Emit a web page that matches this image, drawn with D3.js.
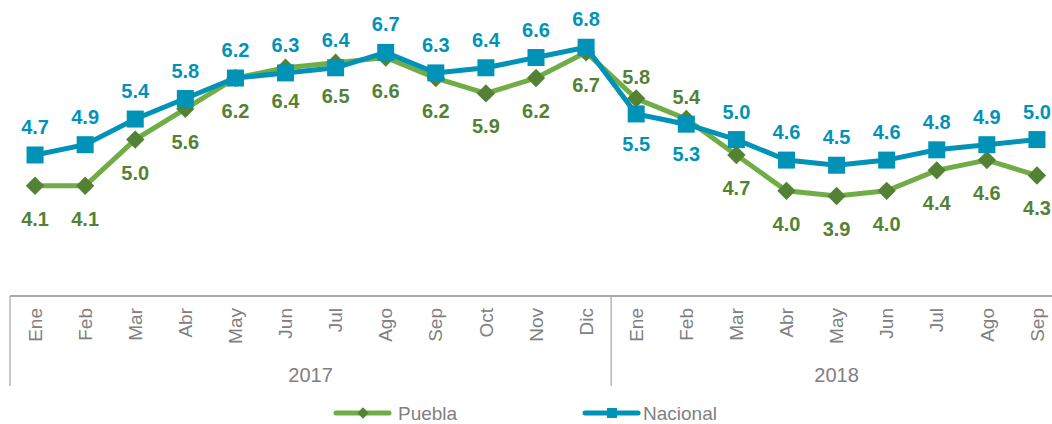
<!DOCTYPE html>
<html>
<head>
<meta charset="utf-8">
<script src="https://cdn.jsdelivr.net/npm/d3@7"></script>
<style>
  body { margin: 0; background: #fff; }
  text { font-family: "Liberation Sans", Arial, sans-serif; }
</style>
</head>
<body>
<div id="chart"></div>
<script>
const months = ["Ene", "Feb", "Mar", "Abr", "May", "Jun", "Jul", "Ago", "Sep", "Oct", "Nov", "Dic",
                "Ene", "Feb", "Mar", "Abr", "May", "Jun", "Jul", "Ago", "Sep"];
const years = ["2017", "2018"];
const yearSpan = [12, 9];
const puebla = [4.1, 4.1, 5.0, 5.6, 6.2, 6.4, 6.5, 6.6, 6.2, 5.9, 6.2, 6.7,
                5.8, 5.4, 4.7, 4.0, 3.9, 4.0, 4.4, 4.6, 4.3];
const nacional = [4.7, 4.9, 5.4, 5.8, 6.2, 6.3, 6.4, 6.7, 6.3, 6.4, 6.6, 6.8,
                  5.5, 5.3, 5.0, 4.6, 4.5, 4.6, 4.8, 4.9, 5.0];

const width = 1052, height = 424;
const blue = "#0093b7", lightGreen = "#70ad47", darkGreen = "#548235", grey = "#808080";

// index where the labels swap sides
const swapped = [12, 13];

const svg = d3.select("#chart")
    .append("svg")
    .attr("width", width)
    .attr("height", height);

const idx = d3.range(months.length);
const x = d3.scaleBand().domain(idx).range([10, 1062]).padding(0);
const cx = function(i) { return x(i) + x.bandwidth() / 2; };
const y = d3.scaleLinear().domain([1.95, 7]).range([296, 37]);
const axisY = 296;

// x axis with month labels
const xAxis = svg.append("g")
    .attr("transform", "translate(0," + axisY + ")")
    .call(d3.axisBottom(x).tickSize(0).tickFormat(function(i) { return months[i]; }));
xAxis.select(".domain").remove();
xAxis.selectAll("text")
    .attr("transform", "rotate(-90)")
    .attr("x", -12)
    .attr("y", 0)
    .attr("dy", "0.35em")
    .style("text-anchor", "end")
    .style("font-size", "19px")
    .style("font-family", "Liberation Sans, Arial, sans-serif")
    .attr("fill", grey);

svg.append("line")
    .attr("x1", 10).attr("x2", width)
    .attr("y1", axisY).attr("y2", axisY)
    .attr("stroke", "#8c8c8c").attr("stroke-width", 1.5);

// year groups
let start = 0;
years.forEach(function(yr, k) {
  const x0 = x(start);
  const x1 = x(start + yearSpan[k] - 1) + x.bandwidth();
  svg.append("line")
    .attr("x1", x0).attr("x2", x0)
    .attr("y1", axisY).attr("y2", 386)
    .attr("stroke", "#a6a6a6").attr("stroke-width", 1.2);
  svg.append("text")
    .attr("x", (x0 + x1) / 2)
    .attr("y", 382)
    .attr("text-anchor", "middle")
    .attr("fill", grey)
    .style("font-size", "20px")
    .text(yr);
  start += yearSpan[k];
});

const line = d3.line()
    .x(function(d, i) { return cx(i); })
    .y(function(d) { return y(d); });

// Puebla
svg.append("path")
    .datum(puebla)
    .attr("fill", "none")
    .attr("stroke", lightGreen)
    .attr("stroke-width", 5)
    .attr("d", line);

svg.selectAll(".diamond")
    .data(puebla)
    .enter()
    .append("rect")
    .attr("class", "diamond")
    .attr("x", -6.5).attr("y", -6.5)
    .attr("width", 13).attr("height", 13)
    .attr("fill", darkGreen)
    .attr("transform", function(d, i) { return "translate(" + cx(i) + "," + y(d) + ") rotate(45)"; });

// Nacional
svg.append("path")
    .datum(nacional)
    .attr("fill", "none")
    .attr("stroke", blue)
    .attr("stroke-width", 5)
    .attr("d", line);

svg.selectAll(".square")
    .data(nacional)
    .enter()
    .append("rect")
    .attr("class", "square")
    .attr("x", function(d, i) { return cx(i) - 8.5; })
    .attr("y", function(d) { return y(d) - 8.5; })
    .attr("width", 17).attr("height", 17)
    .attr("fill", blue);

// data labels
svg.selectAll(".lblP")
    .data(puebla)
    .enter()
    .append("text")
    .attr("x", function(d, i) { return cx(i); })
    .attr("y", function(d, i) { return swapped.includes(i) ? y(d) - 15 : y(d) + 40; })
    .attr("text-anchor", "middle")
    .attr("fill", darkGreen)
    .style("font-size", "20px")
    .style("font-weight", "bold")
    .text(function(d) { return d.toFixed(1); });

svg.selectAll(".lblN")
    .data(nacional)
    .enter()
    .append("text")
    .attr("x", function(d, i) { return cx(i); })
    .attr("y", function(d, i) { return swapped.includes(i) ? y(d) + 37 : y(d) - 21; })
    .attr("text-anchor", "middle")
    .attr("fill", blue)
    .style("font-size", "20px")
    .style("font-weight", "bold")
    .text(function(d) { return d.toFixed(1); });

// legend
const legend = [
  { name: "Puebla", line: lightGreen, mark: darkGreen, shape: "diamond", x: 336 },
  { name: "Nacional", line: blue, mark: blue, shape: "square", x: 585 }
];
const lg = svg.selectAll(".legend")
    .data(legend)
    .enter()
    .append("g")
    .attr("transform", function(d) { return "translate(" + d.x + ",413)"; });
lg.append("line")
    .attr("x1", 0).attr("x2", 53)
    .attr("stroke", function(d) { return d.line; })
    .attr("stroke-width", 5)
    .attr("stroke-linecap", "round");
lg.append("rect")
    .attr("x", -5).attr("y", -5)
    .attr("width", 10).attr("height", 10)
    .attr("fill", function(d) { return d.mark; })
    .attr("transform", function(d) { return d.shape === "diamond" ? "translate(27,0) rotate(45) scale(0.8)" : "translate(27,0)"; });
lg.append("text")
    .attr("x", function(d) { return d.shape === "diamond" ? 62 : 58; })
    .attr("y", 7)
    .attr("fill", grey)
    .style("font-size", "19px")
    .text(function(d) { return d.name; });
</script>
</body>
</html>
